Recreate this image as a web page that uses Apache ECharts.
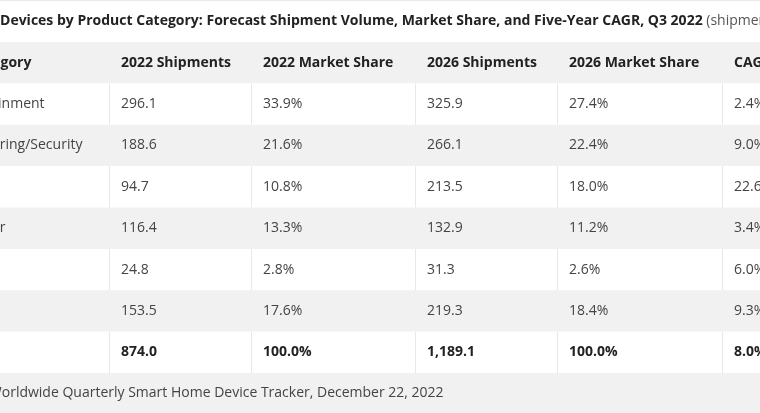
<!DOCTYPE html>
<html>
<head>
<meta charset="utf-8">
<script src="https://cdn.jsdelivr.net/npm/echarts@6/dist/echarts.min.js"></script>
<style>
html,body{margin:0;padding:0;background:#fff;}
#chart{width:760px;height:413px;}
</style>
</head>
<body>
<div id="chart"></div>
<script>
// ---- data ----
const titleBold = 'Smart Home Devices by Product Category: Forecast Shipment Volume, Market Share, and Five-Year CAGR, Q3 2022';
const titleNormal = ' (shipments in millions)';
const sourceText = 'Source: IDC Worldwide Quarterly Smart Home Device Tracker, December 22, 2022';
const headers = ['Product Category', '2022 Shipments', '2022 Market Share', '2026 Shipments', '2026 Market Share', 'CAGR'];
const categories = ['Video Entertainment', 'Home Monitoring/Security', 'Lighting', 'Smart Speaker', 'Thermostat', 'Others', 'Total'];
const shipments2022 = [296.1, 188.6, 94.7, 116.4, 24.8, 153.5, 874.0];
const share2022 = [33.9, 21.6, 10.8, 13.3, 2.8, 17.6, 100.0];
const shipments2026 = [325.9, 266.1, 213.5, 132.9, 31.3, 219.3, 1189.1];
const share2026 = [27.4, 22.4, 18.0, 11.2, 2.6, 18.4, 100.0];
const cagr = [2.4, 9.0, 22.6, 3.4, 6.0, 9.3, 8.0];

// ---- layout (not data) ----
const colEdges = [-101, 110, 252, 416, 558, 723, 880];
const PAD = 11;
const FONT = '"Open Sans", "Noto Sans", sans-serif';

function fmtNum(v) {
  return v.toLocaleString('en-US', {minimumFractionDigits: 1, maximumFractionDigits: 1});
}
function fmtPct(v) { return v.toFixed(1) + '%'; }

const rowLabels = ['header'].concat(categories);
const cells = [];
const cellText = [];
headers.forEach((h, c) => { cells.push([c, 0]); cellText.push(h); });
categories.forEach((cat, i) => {
  const r = i + 1;
  const vals = [cat, fmtNum(shipments2022[i]), fmtPct(share2022[i]), fmtNum(shipments2026[i]), fmtPct(share2026[i]), fmtPct(cagr[i])];
  vals.forEach((t, c) => { cells.push([c, r]); cellText.push(t); });
});
const lastRow = categories.length;

const chart = echarts.init(document.getElementById('chart'), null, {renderer: 'canvas'});
chart.setOption({
  animation: false,
  backgroundColor: '#ffffff',
  grid: {left: 0, right: 0, top: 42, bottom: 40},
  xAxis: {type: 'value', min: 0, max: 760, show: false},
  yAxis: {type: 'category', data: rowLabels, inverse: true, show: false},
  graphic: [
    {type: 'rect', shape: {x: 0, y: 0, width: 760, height: 1}, style: {fill: '#e9e9e9'}, silent: true},
    {type: 'rect', shape: {x: 0, y: 373, width: 760, height: 40}, style: {fill: '#f1f1f1'}, silent: true, z: -1},
    {type: 'text', x: -91, y: 21, silent: true, style: {
      text: '{b|' + titleBold + '}{n|' + titleNormal + '}',
      verticalAlign: 'middle',
      rich: {
        b: {fontFamily: FONT, fontSize: 14, fontWeight: 'bold', fill: '#222222'},
        n: {fontFamily: FONT, fontSize: 14, fontWeight: 'normal', fill: '#555555'}
      }
    }},
    {type: 'text', x: -90, y: 393, silent: true, style: {
      text: sourceText, fontFamily: FONT, fontSize: 14, fill: '#444444', verticalAlign: 'middle'
    }}
  ],
  series: [{
    type: 'custom',
    coordinateSystem: 'cartesian2d',
    data: cells,
    encode: {x: 0, y: 1},
    renderItem: function (params, api) {
      const c = api.value(0), r = api.value(1);
      const yc = api.coord([0, r])[1];
      const h = api.size([0, 1])[1];
      const x0 = api.coord([colEdges[c], r])[0];
      const x1 = api.coord([colEdges[c + 1], r])[0];
      const gray = (r % 2 === 0);
      const bold = (r === 0 || r === lastRow);
      const children = [
        {type: 'rect', shape: {x: x0, y: yc - h / 2, width: x1 - x0, height: h},
         style: {fill: gray ? '#f1f1f1' : '#ffffff'}}
      ];
      if (!gray) {
        children.push({type: 'rect', shape: {x: Math.round(x1) - 1, y: yc - h / 2, width: 1, height: h},
          style: {fill: '#e8e8e8'}});
      }
      children.push({type: 'text', x: x0 + PAD, y: yc, style: {
        text: cellText[params.dataIndex],
        fontFamily: FONT, fontSize: 14, fontWeight: bold ? 'bold' : 'normal',
        fill: bold ? '#222222' : '#444444', verticalAlign: 'middle', align: 'left'
      }});
      return {type: 'group', children: children};
    }
  }]
});
</script>
</body>
</html>
